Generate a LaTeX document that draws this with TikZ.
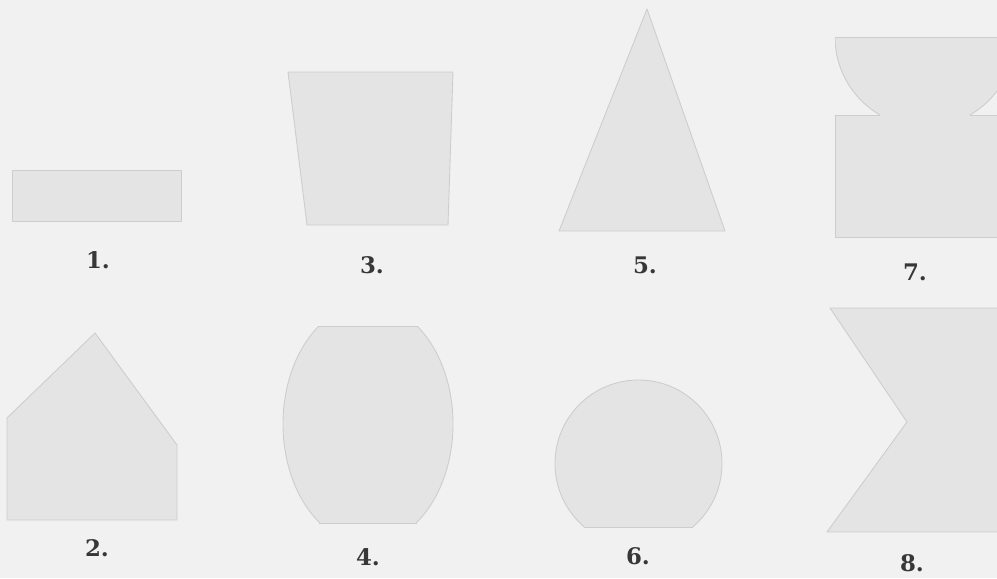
\documentclass[tikz,border=0pt]{standalone}
\usepackage{fontspec}
\newfontfamily\labelfont{DejaVu Serif}
\usepackage{tikz}
\definecolor{papergrey}{RGB}{241,241,241}
\definecolor{shapegrey}{RGB}{228,228,228}
\definecolor{edgegrey}{RGB}{205,205,205}
\definecolor{labelgrey}{RGB}{55,55,55}
\tikzset{
  figshape/.style={fill=shapegrey,draw=edgegrey,line width=0.5pt,line join=round},
  figfill/.style={fill=shapegrey},
  figedge/.style={draw=edgegrey,line width=0.5pt},
  figlabel/.style={font=\labelfont\bfseries\fontsize{13}{15}\selectfont,text=labelgrey,inner sep=0pt}
}

\begin{document}
\begin{tikzpicture}[x=0.02cm,y=-0.02cm]
  \useasboundingbox (0,0) rectangle (997,578);
  \fill[papergrey] (0,0) rectangle (997,578);
  \clip (0,0) rectangle (997,578);
  % top row
  \path[figshape] (12,170) rectangle (181,221);
  \path[figshape] (288,72) -- (453,72) -- (448,225) -- (307,225) -- cycle;
  \path[figshape] (647,9) -- (725,231) -- (559,231) -- cycle;
  \begin{scope}
    \clip (835,37) rectangle (1000,115);
    \path[figshape] (925,37) circle[radius=90];
  \end{scope}
  \draw[figedge] (835,37) -- (1000,37);
  \path[figfill] (835,115) rectangle (1000,237);
  \draw[figedge] (880,115) -- (835,115) -- (835,237) -- (1000,237);
  \draw[figedge] (970,115) -- (1000,115);
  % bottom row
  \path[figshape] (95,333) -- (177,445) -- (177,520) -- (7,520) -- (7,418) -- cycle;
  \begin{scope}
    \clip (270,326) rectangle (470,523);
    \path[figshape] (368,424) ellipse[x radius=85,y radius=120];
  \end{scope}
  \draw[figedge] (319,326) -- (417,326) (319,523) -- (417,523);
  \begin{scope}
    \clip (540,370) rectangle (740,527);
    \path[figshape] (638.5,463.5) circle[radius=83.5];
  \end{scope}
  \draw[figedge] (584.5,527) -- (692.5,527);
  \path[figshape] (830,308) -- (1000,308) -- (1000,532) -- (827,532) -- (907,422) -- cycle;
  % labels
  \node[figlabel] (lblone)   at (98,260)  {1.};
  \node[figlabel] (lblthree) at (372,265) {3.};
  \node[figlabel] (lblfive)  at (645,265) {5.};
  \node[figlabel] (lblseven) at (915,272) {7.};
  \node[figlabel] (lbltwo)   at (97,548)  {2.};
  \node[figlabel] (lblfour)  at (368,557) {4.};
  \node[figlabel] (lblsix)   at (638,556) {6.};
  \node[figlabel] (lbleight) at (912,563) {8.};
\end{tikzpicture}
\end{document}
